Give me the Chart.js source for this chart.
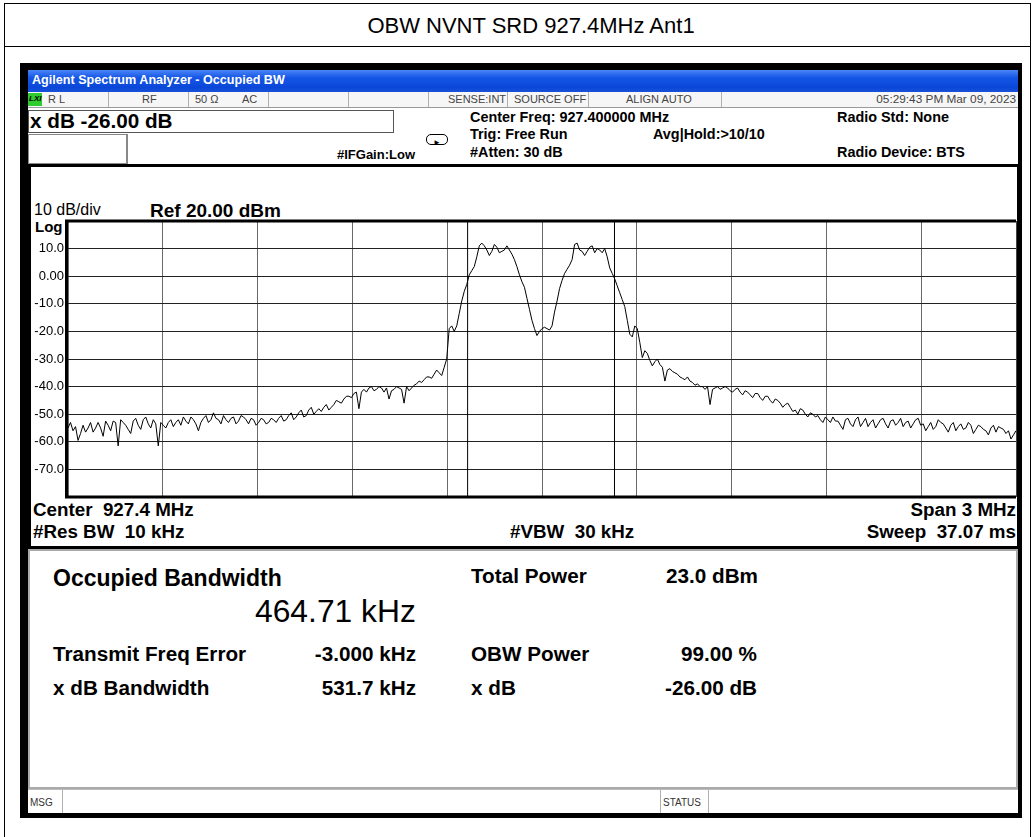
<!DOCTYPE html>
<html><head><meta charset="utf-8">
<script src="https://cdn.jsdelivr.net/npm/chart.js@4/dist/chart.umd.min.js"></script>
<style>
body{margin:0;width:1033px;height:837px;background:#fff;font-family:"Liberation Sans",Arial,sans-serif;overflow:hidden;position:relative}
.a{position:absolute;white-space:nowrap;line-height:1}
.b{font-weight:bold}
.box{position:absolute;box-sizing:border-box}
.vd{position:absolute;top:0;width:1px;height:100%;background:#b0b0b0}
</style></head><body>
<!-- page table frame -->
<div class="box" style="left:4px;top:3px;width:1027px;height:900px;border:1px solid #000"></div>
<div class="box" style="left:4px;top:46px;width:1027px;height:1px;background:#000"></div>
<div class="a" style="left:0;width:1062px;text-align:center;top:15px;font-size:22px">OBW NVNT SRD 927.4MHz Ant1</div>

<!-- analyzer screenshot frame -->
<div class="box" style="left:20px;top:63px;width:1002px;height:755px;background:#000"></div>
<div class="box" style="left:28px;top:70px;width:990px;height:22px;background:linear-gradient(#4a86f7,#1556e6 35%,#0a47d8 80%,#1a52d8)"></div>
<div class="a b" style="left:32px;top:74px;font-size:12.6px;color:#fff">Agilent Spectrum Analyzer - Occupied BW</div>

<!-- status row -->
<div class="box" style="left:28px;top:92px;width:990px;height:16px;background:#f6f6f6;border-bottom:1px solid #999;font-size:11px;color:#444">
  <div class="box" style="left:0;top:1px;width:14px;height:13px;background:#2ecc2e"></div>
  <div class="a b" style="left:1px;top:3px;font-style:italic;color:#000;font-size:8px">LXI</div>
  <div class="a" style="left:20px;top:2px">R L</div>
  <div class="vd" style="left:80px"></div>
  <div class="a" style="left:114px;top:2px">RF</div>
  <div class="vd" style="left:160px"></div>
  <div class="a" style="left:167px;top:2px">50 Ω</div>
  <div class="a" style="left:214px;top:2px">AC</div>
  <div class="vd" style="left:240px"></div>
  <div class="vd" style="left:320px"></div>
  <div class="vd" style="left:400px"></div>
  <div class="a" style="left:420px;top:2px">SENSE:INT</div>
  <div class="vd" style="left:479px"></div>
  <div class="a" style="left:486px;top:2px">SOURCE OFF</div>
  <div class="vd" style="left:560px"></div>
  <div class="a" style="left:598px;top:2px">ALIGN AUTO</div>
  <div class="vd" style="left:693px"></div>
  <div class="a" style="right:2px;top:2px;font-size:11.8px">05:29:43 PM Mar 09, 2023</div>
</div>

<!-- info area -->
<div class="box" style="left:28px;top:108px;width:990px;height:56px;background:#fff"></div>
<div class="box" style="left:28px;top:110px;width:366px;height:23px;border:1px solid #555;background:#fff"></div>
<div class="a b" style="left:30px;top:111px;font-size:20.7px">x dB -26.00 dB</div>
<div class="box" style="left:28px;top:134px;width:100px;height:30px;border:1px solid #888;border-right:2px solid #888;background:#fff"></div>
<div class="a b" style="left:337px;top:148px;font-size:13px">#IFGain:Low</div>
<div class="box" style="left:426px;top:134px;width:22px;height:11px;border:1px solid #000;border-radius:5px"></div>
<div class="a" style="left:433px;top:139px;font-size:8px">&#9658;</div>
<div class="a b" style="left:470px;top:110px;font-size:14.4px">Center Freq: 927.400000 MHz</div>
<div class="a b" style="left:470px;top:127px;font-size:14.4px">Trig: Free Run</div>
<div class="a b" style="left:470px;top:145px;font-size:14.4px">#Atten: 30 dB</div>
<div class="a b" style="left:653px;top:127px;font-size:14.4px">Avg|Hold:&gt;10/10</div>
<div class="a b" style="left:837px;top:110px;font-size:14.4px">Radio Std: None</div>
<div class="a b" style="left:837px;top:145px;font-size:14.4px">Radio Device: BTS</div>

<!-- graph panel -->
<div class="box" style="left:28px;top:164px;width:992px;height:385px;background:#fff;border:3px solid #000"></div>
<div class="a" style="left:34px;top:202px;font-size:16px">10 dB/div</div>
<div class="a b" style="left:150px;top:201px;font-size:19px">Ref 20.00 dBm</div>
<div class="a b" style="left:35px;top:219px;font-size:15px">Log</div>
<div class="a b" style="left:33px;top:501px;font-size:18.8px">Center&nbsp; 927.4 MHz</div>
<div class="a b" style="right:17px;top:501px;font-size:18.8px">Span 3 MHz</div>
<div class="a b" style="left:33px;top:523px;font-size:18.8px">#Res BW&nbsp; 10 kHz</div>
<div class="a b" style="left:510px;top:523px;font-size:18.8px">#VBW&nbsp; 30 kHz</div>
<div class="a b" style="right:17px;top:523px;font-size:18.8px">Sweep&nbsp; 37.07 ms</div>
<canvas id="c" width="990" height="310" style="position:absolute;left:30px;top:200px"></canvas>

<!-- results panel -->
<div class="box" style="left:28px;top:549px;width:990px;height:240px;background:#fff;border:2px solid #aaa"></div>
<div class="a b" style="left:53px;top:567px;font-size:23px">Occupied Bandwidth</div>
<div class="a" style="left:255px;top:596px;font-size:31.8px">464.71 kHz</div>
<div class="a b" style="left:471px;top:566px;font-size:20.7px">Total Power</div>
<div class="a b" style="right:275px;top:566px;font-size:20.7px">23.0 dBm</div>
<div class="a b" style="left:53px;top:644px;font-size:20.7px">Transmit Freq Error</div>
<div class="a b" style="right:617px;top:644px;font-size:20.7px">-3.000 kHz</div>
<div class="a b" style="left:471px;top:644px;font-size:20.7px">OBW Power</div>
<div class="a b" style="right:276px;top:644px;font-size:20.7px">99.00 %</div>
<div class="a b" style="left:53px;top:678px;font-size:20.7px">x dB Bandwidth</div>
<div class="a b" style="right:617px;top:678px;font-size:20.7px">531.7 kHz</div>
<div class="a b" style="left:471px;top:678px;font-size:20.7px">x dB</div>
<div class="a b" style="right:276px;top:678px;font-size:20.7px">-26.00 dB</div>

<!-- message row -->
<div class="box" style="left:28px;top:789px;width:990px;height:24px;background:#fff;border-top:1px solid #bbb;font-size:10px;color:#333">
  <div class="a" style="left:2px;top:8px">MSG</div>
  <div class="vd" style="left:34px"></div>
  <div class="a" style="left:635px;top:8px">STATUS</div>
  <div class="vd" style="left:632px"></div>
  <div class="vd" style="left:680px"></div>
</div>

<script>
// sweep: center 927.4 MHz, span 3 MHz (x axis in kHz offset from center)
const startKHz = -1500;
const spanKHz = 3000;
// trace levels (dBm), equally spaced sweep points across the span
const levels = [
-55,-53,-56,-54.5,-59.5,-57,-54,-56.5,-55,-53,
-56.5,-55,-53,-55,-58,-52.5,-54,-56,-52.5,-53,
-61.5,-52,-53,-54,-55.5,-57,-52.5,-51.5,-54,-55.5,
-52,-51,-53.5,-55,-52,-53.5,-61.5,-53,-54,-55,
-53,-52,-54.5,-53,-52,-54,-51,-52.5,-53.5,-51,
-52,-53.5,-56,-53,-51.5,-50.5,-53,-52,-49.5,-51.5,
-52,-53.5,-50.5,-52,-53,-51.5,-51,-53.5,-52.5,-50.5,
-51,-52,-53.5,-51.5,-52,-54,-53,-51.5,-52,-53.5,
-53,-51.5,-52,-53,-51.5,-50.5,-52.5,-52,-50.5,-49.5,
-52,-51,-49.5,-48.5,-51,-50.5,-48.5,-47.5,-50,-49,
-48,-49,-47.5,-46.5,-48.5,-47.5,-46.5,-45,-45.5,-46,
-44.5,-43.5,-43.5,-44,-42.5,-42,-48,-42,-41,-42,
-40.5,-40,-41.5,-41,-40,-40.5,-42,-40.5,-44.5,-41.5,
-41,-40,-40.5,-41,-46,-40,-41.5,-40.5,-39.5,-39,
-38,-38.5,-37.5,-36.5,-36.5,-37,-35.5,-34,-35,-36,
-33,-30,-19,-18,-20,-18,-13.5,-9,-5.5,-3,
0.5,2,3.5,7,11,12,11,9.5,7.5,9,
11.5,10.5,8.5,9,9.5,11,9.5,8,6,3.5,
0.5,-2,-4,-8,-12,-16,-19,-21.5,-20,-19,
-18.5,-19,-19.5,-18,-13,-9,-4.5,-1.5,1,2.5,
4,6,11.5,12,9.5,9,7.5,9,10.5,11,
8.5,10,9.5,8.5,10,7,3,1,-1,-3.5,
-6,-8.5,-11,-16,-21,-22,-18,-19,-24,-29.5,
-27,-28,-30.5,-32.5,-31,-30,-32,-33,-38,-34,
-33.5,-34.5,-35,-35.5,-36.5,-37,-37.5,-36.5,-38,-38.5,
-39.5,-39,-40,-40,-41,-40,-46.5,-41,-40.5,-40,
-41,-40.5,-40,-40.5,-41.5,-42,-41,-40.5,-42,-43,
-41.5,-42,-43,-44,-42.5,-42.5,-44,-45,-43.5,-43.5,
-45,-46,-44.5,-45,-46,-47.5,-46.5,-46,-47.5,-49,
-48.5,-50,-48,-48.5,-50,-51,-49.5,-50,-51,-50.5,
-52,-53,-51,-52,-53,-51,-52.5,-52.5,-54,-55.5,
-52,-51.5,-53.5,-54.5,-52,-51,-54.5,-53,-51.5,-54.5,
-53,-52,-55,-53.5,-52,-51.5,-53.5,-55,-52.5,-52,
-54,-53,-51.5,-54.5,-53,-52.5,-55,-53.5,-52,-51.5,
-54,-53.5,-56,-54.5,-53,-55.5,-54.5,-52,-53,-53.5,
-55,-56.5,-54,-53,-56,-54.5,-53.5,-55.5,-55,-53,
-54,-57,-55.5,-54,-54.5,-55.5,-56,-57.5,-55,-54,
-56.5,-54.5,-55,-55.5,-57,-56,-59,-57.5,-56
];
// OBW marker edges (kHz offset from center)
const obwEdgesKHz = [-235.4, 229.4];
// y axis
const refLevel = 20;
const bottomLevel = -80;
const yTickValues = [10, 0, -10, -20, -30, -40, -50, -60, -70];
const yTickLabels = ['10.0', '0.00', '-10.0', '-20.0', '-30.0', '-40.0', '-50.0', '-60.0', '-70.0'];

const step = spanKHz / (levels.length - 1);
const trace = levels.map((v, i) => ({x: startKHz + i * step, y: v}));
const markerSets = obwEdgesKHz.map(f => ({
  data: [{x: f, y: bottomLevel}, {x: f, y: refLevel}],
  borderColor: '#000', borderWidth: 1, pointRadius: 0, tension: 0
}));

const borderPlugin = {
  id: 'frameBorder',
  afterDraw(chart) {
    const {ctx, chartArea: a} = chart;
    ctx.save();
    ctx.strokeStyle = '#000';
    ctx.lineWidth = 3;
    ctx.beginPath();
    ctx.moveTo(a.left - 1.5, a.top); ctx.lineTo(a.right, a.top);
    ctx.moveTo(a.left - 1.5, a.bottom); ctx.lineTo(a.right, a.bottom);
    ctx.moveTo(a.left - 1.5, a.top - 1.5); ctx.lineTo(a.left - 1.5, a.bottom + 1.5);
    ctx.stroke();
    ctx.lineWidth = 1;
    ctx.strokeStyle = '#444';
    ctx.beginPath();
    ctx.moveTo(a.right + 0.5, a.top); ctx.lineTo(a.right + 0.5, a.bottom);
    ctx.stroke();
    ctx.restore();
  }
};

new Chart(document.getElementById('c'), {
  type: 'line',
  data: {
    datasets: [
      {data: trace, borderColor: '#000', borderWidth: 1, pointRadius: 0, tension: 0},
      ...markerSets
    ]
  },
  options: {
    responsive: false,
    animation: false,
    events: [],
    layout: {padding: {left: 0, right: 4, top: 21, bottom: 13}},
    plugins: {legend: {display: false}, tooltip: {enabled: false}},
    scales: {
      x: {
        type: 'linear', min: startKHz, max: startKHz + spanKHz,
        ticks: {display: false, stepSize: 300},
        grid: {color: '#6a6a6a', lineWidth: 1, drawTicks: false},
        border: {display: false},
        afterFit: s => { s.height = 0; }
      },
      y: {
        min: bottomLevel, max: refLevel,
        ticks: {
          stepSize: 10, padding: 4, color: '#000',
          font: {family: '"Liberation Sans", Arial, sans-serif', size: 13},
          callback: v => { const i = yTickValues.indexOf(v); return i >= 0 ? yTickLabels[i] : ''; }
        },
        grid: {color: '#222', lineWidth: 1, drawTicks: false},
        border: {display: false},
        afterFit: s => { s.width = 38; }
      }
    }
  },
  plugins: [borderPlugin]
});
</script>
</body></html>
